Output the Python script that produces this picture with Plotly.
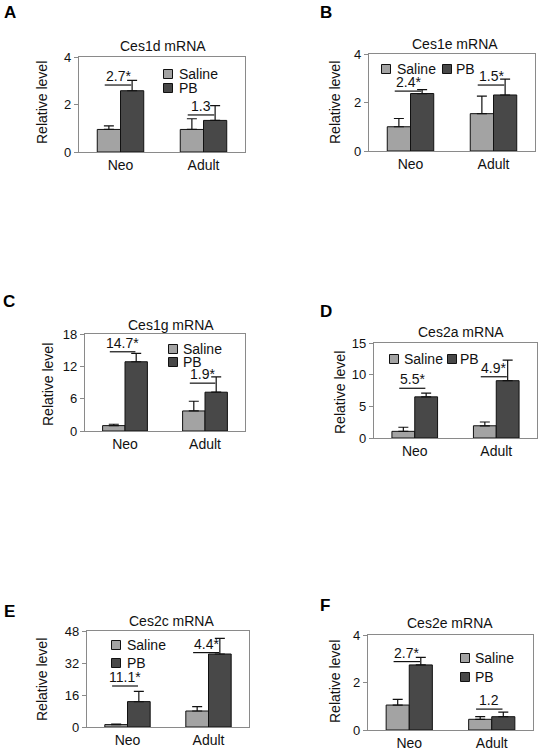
import plotly.graph_objects as go

W, H = 539, 750

# ---------------- data ----------------
categories = ["Neo", "Adult"]
group_names = ["Saline", "PB"]
titles = ["Ces1d mRNA", "Ces1e mRNA", "Ces1g mRNA", "Ces2a mRNA", "Ces2c mRNA", "Ces2e mRNA"]
panel_letters = ["A", "B", "C", "D", "E", "F"]

saline_vals = [[0.95, 0.95], [1.0, 1.54], [1.0, 3.72], [1.05, 1.93], [1.2, 8.0], [1.05, 0.45]]
saline_err = [[0.15, 0.45], [0.34, 0.72], [0.25, 1.8], [0.65, 0.6], [0.2, 2.2], [0.24, 0.11]]
pb_vals = [[2.58, 1.33], [2.37, 2.31], [12.85, 7.2], [6.5, 9.05], [12.7, 36.5], [2.74, 0.56]]
pb_err = [[0.44, 0.62], [0.16, 0.65], [1.55, 2.86], [0.6, 3.25], [5.1, 7.8], [0.32, 0.19]]

fold_labels = [["2.7*", "1.3"], ["2.4*", "1.5*"], ["14.7*", "1.9*"],
               ["5.5*", "4.9*"], ["11.1*", "4.4*"], ["2.7*", "1.2"]]
fold_levels = [[2.82, 1.56], [2.47, 2.72], [14.7, 8.88], [7.85, 9.67], [20.5, 37.2], [2.88, 0.88]]

y_max = [4, 4, 18, 15, 48, 4]
y_dtick = [2, 2, 6, 5, 16, 2]

# ---------------- layout (pixels) ----------------
boxes = [(79, 57, 245, 152), (369, 54, 535, 151), (85, 334, 245, 431),
         (374, 343, 537, 438), (87, 631, 249, 727), (368, 635, 533, 730)]
title_xy = [(163, 46), (455, 44), (171, 325), (461, 332), (171, 621), (450, 623)]
letter_xy = [(10, 12), (326, 12), (9, 301), (326, 311), (9, 611), (325, 605)]
ytitle_xy = [(42, 103), (335, 103), (48, 385), (340, 393), (42, 680), (335, 682)]
# legend key positions: (square centre x, square centre y, text left x) per series
legend_pos = [
    [(168, 74, 178), (168, 88, 178)],
    [(386, 69, 396), (447, 69, 455)],
    [(173, 349, 182), (173, 362, 182)],
    [(394, 359, 403), (452, 359, 459)],
    [(116, 645, 126), (116, 663, 126)],
    [(465, 658, 474), (465, 677, 474)],
]
SQ = 9

colors = ["#a3a3a3", "#484848"]
FONT = "Arial, Liberation Sans, Helvetica, sans-serif"
FS = 14
BW = 0.28

def px(x):
    return x / W

def py(y):
    return 1 - y / H

fig = go.Figure()
layout = dict(width=W, height=H, margin=dict(l=0, r=0, t=0, b=0, pad=0, autoexpand=False),
              paper_bgcolor="white", plot_bgcolor="white",
              font=dict(family=FONT, size=FS, color="#111"),
              showlegend=False, barmode="overlay")
annotations = []
shapes = []

def text_ann(text, x, y, size=FS, **kw):
    d = dict(text=text, x=px(x), y=py(y), xref="paper", yref="paper", showarrow=False,
             xanchor="center", yanchor="middle",
             font=dict(size=size, family=FONT, color="#111"))
    d.update(kw)
    return d

for i in range(6):
    sfx = "" if i == 0 else str(i + 1)
    xa, ya = "x" + sfx, "y" + sfx
    x0, y0, x1, y1 = boxes[i]
    vals = [saline_vals[i], pb_vals[i]]
    errs = [saline_err[i], pb_err[i]]
    for g in range(2):
        fig.add_trace(go.Bar(
            x=[0, 1], y=vals[g], name=group_names[g], width=BW,
            offset=-BW if g == 0 else 0,
            marker=dict(color=colors[g], line=dict(color="#111", width=1)),
            error_y=dict(type="data", array=errs[g], arrayminus=[0, 0], symmetric=False,
                         color="#111", thickness=1.2, width=5),
            xaxis=xa, yaxis=ya, hoverinfo="skip"))
        # legend key (square + label)
        sx, sy, tx0 = legend_pos[i][g]
        shapes.append(dict(type="rect", xref="paper", yref="paper",
                           x0=px(sx - SQ / 2), x1=px(sx + SQ / 2),
                           y0=py(sy + SQ / 2), y1=py(sy - SQ / 2),
                           fillcolor=colors[g], line=dict(color="#111", width=1)))
        annotations.append(text_ann(group_names[g], tx0 - 1, sy, FS, xanchor="left"))
    layout["xaxis" + sfx] = dict(domain=[px(x0), px(x1)], anchor=ya, range=[-0.5, 1.5],
                                 tickvals=[0, 1], ticktext=categories, ticks="",
                                 showline=True, mirror=True, linecolor="#8a8a8a", linewidth=1.2,
                                 showgrid=False, zeroline=False, fixedrange=True, automargin=False,
                                 tickfont=dict(size=FS, family=FONT, color="#111"))
    layout["yaxis" + sfx] = dict(domain=[py(y1), py(y0)], anchor=xa, range=[0, y_max[i]],
                                 dtick=y_dtick[i], tick0=0, ticks="outside", ticklen=4,
                                 tickcolor="#8a8a8a", showline=True, mirror=True,
                                 linecolor="#8a8a8a", linewidth=1.2, showgrid=False,
                                 zeroline=False, fixedrange=True, automargin=False,
                                 tickfont=dict(size=13, family=FONT, color="#111"))
    tx, ty = title_xy[i]
    annotations.append(text_ann(titles[i], tx, ty, FS))
    lx2, ly2 = letter_xy[i]
    annotations.append(dict(text="<b>" + panel_letters[i] + "</b>", x=px(lx2), y=py(ly2),
                            xref="paper", yref="paper", showarrow=False,
                            xanchor="center", yanchor="middle",
                            font=dict(size=17, family=FONT, color="#000")))
    yx, yy = ytitle_xy[i]
    annotations.append(text_ann("Relative level", yx, yy, FS, textangle=-90))
    for c in range(2):
        lev = fold_levels[i][c]
        annotations.append(dict(text=fold_labels[i][c], x=c - 0.03, y=lev, xref=xa, yref=ya,
                                showarrow=False, xanchor="center", yanchor="bottom", yshift=-1,
                                font=dict(size=FS, family=FONT, color="#111")))
        shapes.append(dict(type="line", xref=xa, yref=ya, x0=c - 0.19, x1=c + 0.13,
                           y0=lev, y1=lev, line=dict(color="#111", width=1.2)))

layout["annotations"] = annotations
layout["shapes"] = shapes
fig.update_layout(**layout)
fig.write_html("out.html", config={"displayModeBar": False, "staticPlot": True},
               post_script="document.body.style.margin='0';document.body.style.overflow='hidden';")
